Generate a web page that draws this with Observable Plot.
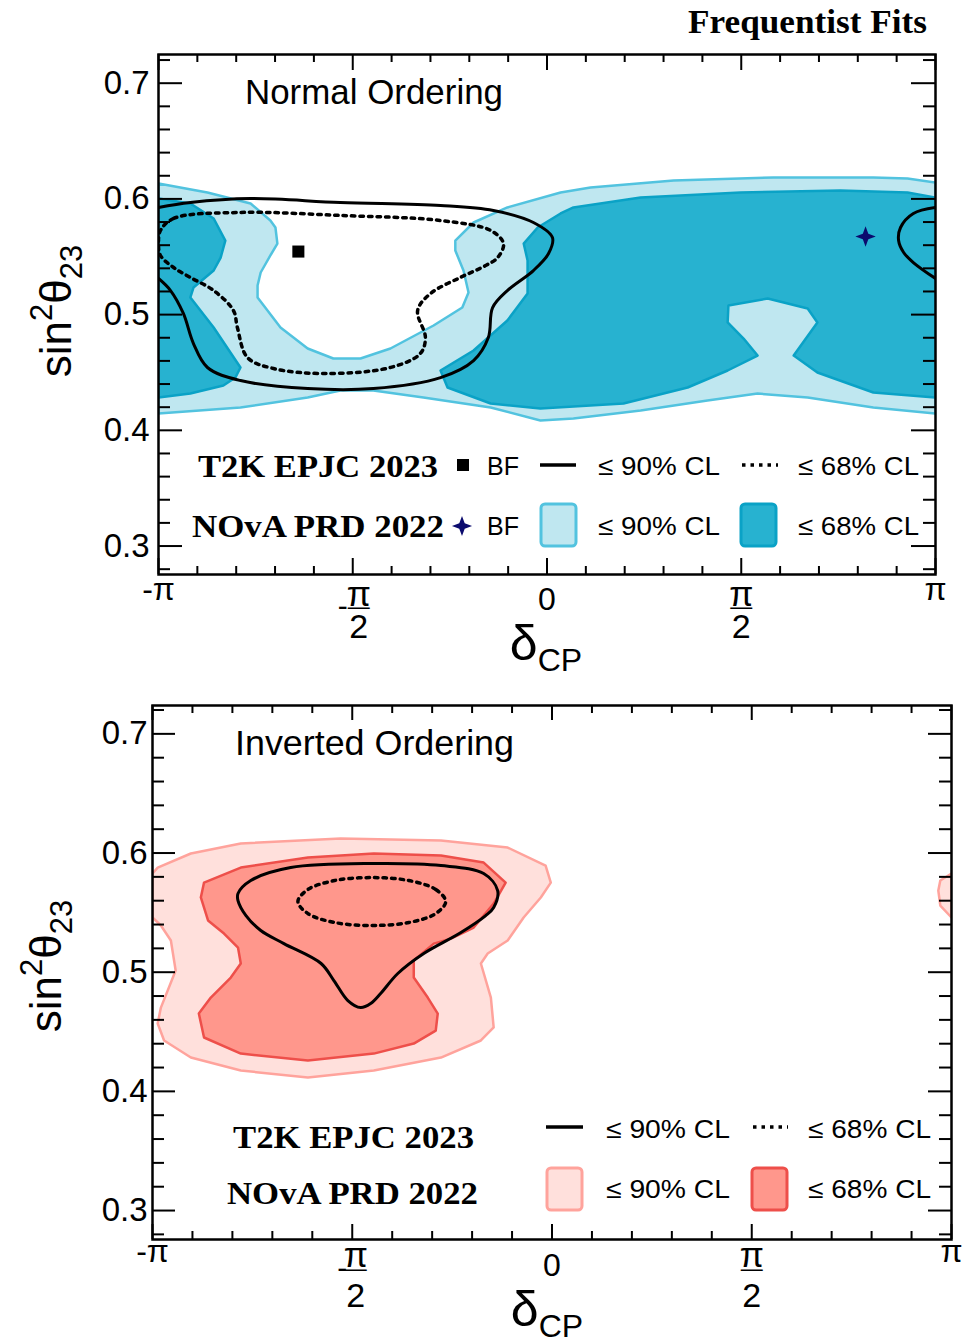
<!DOCTYPE html>
<html><head><meta charset="utf-8">
<script src="https://cdn.jsdelivr.net/npm/d3@7"></script>
<script src="https://cdn.jsdelivr.net/npm/@observablehq/plot@0.6"></script>
<style>
html,body{margin:0;padding:0;background:#fff;}
#wrap{position:relative;width:962px;height:1338px;overflow:hidden;}
#wrap svg{position:absolute;left:0;}
</style></head><body><div id="wrap"></div>
<script>
// x = δCP in units of π, y = sin²θ23
const xMajor = [-1, -0.5, 0, 0.5, 1];
const xLabels = ["-π", "-π/2", "0", "π/2", "π"];
const xMinor = [-0.9,-0.8,-0.7,-0.6,-0.4,-0.3,-0.2,-0.1,0.1,0.2,0.3,0.4,0.6,0.7,0.8,0.9];
const yMajor = [0.3, 0.4, 0.5, 0.6, 0.7];
const yMinor = [0.28,0.32,0.34,0.36,0.38,0.42,0.44,0.46,0.48,0.52,0.54,0.56,0.58,0.62,0.64,0.66,0.68,0.72];

// ---- Normal Ordering ----
const novaNO90 = [[-1.000,0.6133],[-0.874,0.6055],[-0.763,0.5960],[-0.712,0.5813],[-0.699,0.5753],[-0.694,0.5614],[-0.712,0.5511],[-0.737,0.5364],[-0.745,0.5251],[-0.745,0.5148],[-0.686,0.4889],[-0.616,0.4707],[-0.550,0.4621],[-0.480,0.4621],[-0.403,0.4707],[-0.292,0.4906],[-0.218,0.5061],[-0.202,0.5191],[-0.215,0.5381],[-0.236,0.5554],[-0.236,0.5640],[-0.189,0.5796],[-0.102,0.5926],[0.035,0.6055],[0.112,0.6098],[0.326,0.6159],[0.583,0.6185],[0.840,0.6185],[0.928,0.6176],[1.000,0.6142],[1.000,0.4145],[0.840,0.4197],[0.671,0.4283],[0.542,0.4318],[0.413,0.4258],[0.241,0.4171],[0.068,0.4102],[-0.017,0.4085],[-0.145,0.4197],[-0.318,0.4283],[-0.447,0.4344],[-0.532,0.4344],[-0.616,0.4283],[-0.789,0.4197],[-1.000,0.4145]];
const novaNO68Left = [[-1.000,0.6003],[-0.918,0.5960],[-0.858,0.5831],[-0.828,0.5640],[-0.840,0.5493],[-0.858,0.5381],[-0.910,0.5234],[-0.918,0.5148],[-0.858,0.4889],[-0.789,0.4543],[-0.802,0.4456],[-0.833,0.4387],[-0.918,0.4318],[-1.000,0.4283]];
const novaNO68Right = [[-0.024,0.5753],[0.035,0.5874],[0.068,0.5926],[0.241,0.6012],[0.498,0.6055],[0.755,0.6072],[0.928,0.6055],[1.000,0.6012],[1.000,0.4283],[0.840,0.4327],[0.696,0.4500],[0.635,0.4646],[0.696,0.4932],[0.671,0.5053],[0.568,0.5139],[0.467,0.5079],[0.465,0.4932],[0.506,0.4793],[0.542,0.4646],[0.465,0.4517],[0.362,0.4370],[0.197,0.4232],[-0.017,0.4188],[-0.145,0.4232],[-0.256,0.4370],[-0.274,0.4517],[-0.189,0.4690],[-0.102,0.4949],[-0.050,0.5182],[-0.050,0.5468],[-0.060,0.5614]];
const t2kNO90Main = [[-1.000,0.5926],[-0.918,0.5969],[-0.763,0.6003],[-0.532,0.5969],[-0.274,0.5943],[-0.138,0.5900],[-0.035,0.5796],[0.014,0.5666],[0.004,0.5528],[-0.035,0.5381],[-0.102,0.5208],[-0.140,0.5061],[-0.151,0.4802],[-0.189,0.4603],[-0.274,0.4456],[-0.447,0.4361],[-0.616,0.4361],[-0.789,0.4430],[-0.874,0.4543],[-0.910,0.4750],[-0.936,0.5010],[-0.969,0.5208],[-1.000,0.5312]];
const t2kNO90Wrap = [[1.000,0.5926],[0.943,0.5874],[0.910,0.5753],[0.905,0.5640],[0.918,0.5537],[0.943,0.5450],[1.000,0.5312]];
const t2kNO68 = [[-0.995,0.5727],[-0.961,0.5831],[-0.789,0.5883],[-0.532,0.5857],[-0.274,0.5813],[-0.145,0.5727],[-0.112,0.5614],[-0.127,0.5493],[-0.158,0.5424],[-0.223,0.5321],[-0.300,0.5182],[-0.333,0.5035],[-0.313,0.4802],[-0.326,0.4664],[-0.403,0.4543],[-0.575,0.4491],[-0.704,0.4534],[-0.771,0.4629],[-0.797,0.4889],[-0.807,0.5035],[-0.858,0.5208],[-0.918,0.5321],[-0.961,0.5407],[-0.995,0.5511],[-1.000,0.5614]];
const t2kBFNO = [[-0.640, 0.5545]];
const novaBFNO = [[0.820, 0.5675]];

// ---- Inverted Ordering ----
const novaIO90 = [[-0.987,0.5878],[-0.904,0.5996],[-0.779,0.6080],[-0.529,0.6122],[-0.278,0.6105],[-0.111,0.6046],[-0.016,0.5895],[-0.003,0.5752],[-0.028,0.5627],[-0.071,0.5459],[-0.111,0.5266],[-0.161,0.5157],[-0.178,0.5073],[-0.153,0.4787],[-0.146,0.4536],[-0.178,0.4427],[-0.278,0.4284],[-0.446,0.4175],[-0.611,0.4116],[-0.779,0.4175],[-0.904,0.4284],[-0.971,0.4427],[-0.987,0.4569],[-0.979,0.4703],[-0.942,0.5014],[-0.954,0.5266],[-0.979,0.5392],[-1.000,0.5459],[-1.000,0.5828]];
const novaIO90Wrap = [[1.000,0.5828],[0.972,0.5769],[0.967,0.5685],[0.972,0.5559],[1.000,0.5459]];
const novaIO68 = [[-0.879,0.5627],[-0.871,0.5752],[-0.779,0.5878],[-0.611,0.5962],[-0.446,0.5996],[-0.278,0.5979],[-0.171,0.5920],[-0.116,0.5752],[-0.146,0.5576],[-0.196,0.5375],[-0.253,0.5282],[-0.296,0.5240],[-0.346,0.5098],[-0.346,0.4955],[-0.311,0.4787],[-0.286,0.4653],[-0.291,0.4510],[-0.346,0.4401],[-0.446,0.4317],[-0.611,0.4259],[-0.779,0.4317],[-0.871,0.4452],[-0.884,0.4653],[-0.854,0.4787],[-0.804,0.4955],[-0.779,0.5073],[-0.786,0.5207],[-0.821,0.5324],[-0.861,0.5434]];
const t2kIO90 = [[-0.786,0.5660],[-0.754,0.5769],[-0.654,0.5878],[-0.446,0.5912],[-0.278,0.5895],[-0.171,0.5828],[-0.136,0.5685],[-0.146,0.5543],[-0.166,0.5475],[-0.228,0.5333],[-0.321,0.5157],[-0.386,0.4989],[-0.429,0.4821],[-0.454,0.4737],[-0.479,0.4703],[-0.511,0.4762],[-0.546,0.4930],[-0.578,0.5073],[-0.671,0.5240],[-0.729,0.5350],[-0.766,0.5475],[-0.786,0.5601]];
const t2kIO68 = [[-0.266,0.5593],[-0.291,0.5694],[-0.358,0.5769],[-0.451,0.5794],[-0.544,0.5769],[-0.611,0.5694],[-0.636,0.5593],[-0.611,0.5492],[-0.544,0.5417],[-0.451,0.5392],[-0.358,0.5417],[-0.291,0.5492]];

const SANS = "'Liberation Sans', Arial, Helvetica, sans-serif";
const SERIF = "'Liberation Serif', 'Times New Roman', serif";
const C = {
  b90: "#bfe7f0", b90s: "#52c3df", b68: "#27b2d0", b68s: "#0aa2c6",
  r90: "#ffe0dc", r90s: "#ffa39c", r68: "#ff978c", r68s: "#ee4f4a", navy: "#0b0b6e"
};
const star4 = {draw(ctx, size) {
  const r = Math.sqrt(size) * 0.9, w = r * 0.27;
  ctx.moveTo(0, -r); ctx.lineTo(w, -w); ctx.lineTo(r, 0); ctx.lineTo(w, w);
  ctx.lineTo(0, r); ctx.lineTo(-w, w); ctx.lineTo(-r, 0); ctx.lineTo(-w, -w); ctx.closePath();
}};

const P = {x: d => d[0], y: d => d[1], clip: true};
const poly = (data, fill, stroke) => Plot.line(data, {...P, fill, stroke, strokeWidth: 2.5, curve: "linear-closed", strokeLinejoin: "round"});
const solid = (data, closed) => Plot.line(data, {...P, stroke: "#000", strokeWidth: 3, curve: closed ? "catmull-rom-closed" : "catmull-rom"});
const dotted = (data) => Plot.line(data, {...P, stroke: "#000", strokeWidth: 3.5, strokeDasharray: "3.5,5", curve: "catmull-rom-closed"});

function buildPanel(cfg) {
  const {top, height, mL, mR, mT, mB, yDom, layers, L} = cfg;
  const iw = 962 - mL - mR, ih = height - mT - mB;
  const kx = 2 / iw, ky = (yDom[1] - yDom[0]) / ih;
  const [Y0, Y1] = yDom;
  const tk = {stroke: "#000", strokeWidth: 2};
  const lab = {fontSize: 32, fontFamily: SANS, fill: "#000", frameAnchor: "bottom", lineAnchor: "middle"};
  const fracMarks = [];
  xMajor.forEach((v, i) => {
    const s = xLabels[i];
    if (s.includes("/")) {
      const neg = s.startsWith("-");
      const sh = neg ? L.fracShift : 0;
      const [num, den] = s.replace("-", "").split("/");
      fracMarks.push(
        Plot.text([v], {x: d => d, text: () => num, ...lab, dy: L.piDy, dx: sh, fontSize: 35}),
        Plot.text([v], {x: d => d, text: () => "—", ...lab, dy: L.barDy, dx: sh, fontSize: 22}),
        Plot.text([v], {x: d => d, text: () => den, ...lab, dy: L.twoDy, dx: sh, fontSize: 34})
      );
      if (neg) fracMarks.push(Plot.text([v], {x: d => d, text: () => "-", ...lab, dy: L.barDy, dx: L.minusDx, fontSize: 30}));
    } else {
      fracMarks.push(Plot.text([v], {x: d => d, text: () => s, ...lab, dy: s === "0" ? L.zeroDy : L.endDy}));
    }
  });
  const svg = Plot.plot({
    width: 962, height, marginLeft: mL, marginRight: mR, marginTop: mT, marginBottom: mB,
    x: {domain: [-1, 1], axis: null},
    y: {domain: yDom, axis: null},
    style: {background: "transparent", overflow: "visible", fontFamily: SANS},
    marks: [
      ...layers,
      Plot.ruleX(xMajor, {x: d => d, y1: Y0, y2: Y0 + L.xMaj * ky, ...tk}),
      Plot.ruleX(xMajor, {x: d => d, y1: Y1, y2: Y1 - L.xMaj * ky, ...tk}),
      Plot.ruleX(xMinor, {x: d => d, y1: Y0, y2: Y0 + L.xMin * ky, ...tk}),
      Plot.ruleX(xMinor, {x: d => d, y1: Y1, y2: Y1 - L.xMin * ky, ...tk}),
      Plot.ruleY(yMajor, {y: d => d, x1: -1, x2: -1 + L.yMaj * kx, ...tk}),
      Plot.ruleY(yMajor, {y: d => d, x1: 1, x2: 1 - L.yMaj * kx, ...tk}),
      Plot.ruleY(yMinor, {y: d => d, x1: -1, x2: -1 + L.yMin * kx, ...tk}),
      Plot.ruleY(yMinor, {y: d => d, x1: 1, x2: 1 - L.yMin * kx, ...tk}),
      Plot.frame({stroke: "#000", strokeWidth: 2.5}),
      Plot.text(yMajor, {y: d => d, text: d => d.toFixed(1), frameAnchor: "left", lineAnchor: "middle", textAnchor: "end", dx: L.ydx, fontSize: 33, fontFamily: SANS, fill: "#000"}),
      ...fracMarks
    ]
  });
  svg.style.top = top + "px";
  return svg;
}

const wrap = document.getElementById("wrap");
wrap.appendChild(buildPanel({
  top: 0, height: 680, mL: 158, mR: 27, mT: 54, mB: 106, yDom: [0.2754, 0.7248],
  L: {xMaj: 16, xMin: 8, yMaj: 24, yMin: 12, ydx: -9, endDy: 15, zeroDy: 25, piDy: 20, barDy: 32, twoDy: 53, minusDx: -10, fracShift: 6},
  layers: [
    poly(novaNO90, C.b90, C.b90s),
    poly(novaNO68Left, C.b68, C.b68s),
    poly(novaNO68Right, C.b68, C.b68s),
    solid(t2kNO90Main, false),
    solid(t2kNO90Wrap, false),
    dotted(t2kNO68),
    Plot.dot(t2kBFNO, {x: d => d[0], y: d => d[1], symbol: "square", r: 6.8, fill: "#000"}),
    Plot.dot(novaBFNO, {x: d => d[0], y: d => d[1], symbol: star4, r: 6.4, fill: C.navy})
  ]
}));
wrap.appendChild(buildPanel({
  top: 680, height: 658, mL: 152, mR: 11, mT: 25, mB: 99, yDom: [0.2757, 0.7238],
  L: {xMaj: 15, xMin: 8, yMaj: 23, yMin: 12, ydx: -5, endDy: 12, zeroDy: 26, piDy: 16, barDy: 29, twoDy: 57, minusDx: -10, fracShift: 3.5},
  layers: [
    poly(novaIO90, C.r90, C.r90s),
    poly(novaIO90Wrap, C.r90, C.r90s),
    poly(novaIO68, C.r68, C.r68s),
    solid(t2kIO90, true),
    dotted(t2kIO68)
  ]
}));

// ---- overlay: titles, axis titles, legends ----
const ov = d3.select(wrap).append("svg").attr("width", 962).attr("height", 1338).style("top", "0px");
function T(x, y, str, o = {}) {
  const t = ov.append("text").attr("x", x).attr("y", y)
    .attr("font-size", o.size || 26).attr("font-family", o.family || SANS)
    .attr("font-weight", o.weight || "normal").attr("text-anchor", o.anchor || "start")
    .attr("fill", "#000").text(str);
  if (o.len) t.attr("textLength", o.len).attr("lengthAdjust", "spacingAndGlyphs");
  return t;
}
function yTitle(cx, cy) {
  const t = ov.append("text").attr("transform", `translate(${cx},${cy}) rotate(-90)`)
    .attr("text-anchor", "middle").attr("font-family", SANS).attr("font-size", 44).attr("fill", "#000");
  t.append("tspan").text("sin");
  t.append("tspan").attr("font-size", 31).attr("dy", -19).text("2");
  t.append("tspan").attr("dy", 19).text("θ");
  t.append("tspan").attr("font-size", 31).attr("dy", 11).text("23");
}
function xTitle(cx, by) {
  const t = ov.append("text").attr("x", cx).attr("y", by).attr("text-anchor", "middle")
    .attr("font-family", SANS).attr("font-size", 50).attr("fill", "#000");
  t.append("tspan").text("δ");
  t.append("tspan").attr("font-size", 32).attr("dy", 11).text("CP");
}
function box(x, y, fill, stroke) {
  ov.append("rect").attr("x", x).attr("y", y).attr("width", 35).attr("height", 42).attr("rx", 4)
    .attr("fill", fill).attr("stroke", stroke).attr("stroke-width", 3);
}
function hline(x1, x2, y, dash) {
  const l = ov.append("line").attr("x1", x1).attr("x2", x2).attr("y1", y).attr("y2", y)
    .attr("stroke", "#000").attr("stroke-width", 3.5);
  if (dash) l.attr("stroke-dasharray", "3.5,5");
}

// top
T(927, 33, "Frequentist Fits", {size: 34, family: SERIF, weight: "bold", anchor: "end", len: 239});
T(245, 104, "Normal Ordering", {size: 35, len: 258});
yTitle(71, 311);
xTitle(546, 660);
T(198, 477, "T2K EPJC 2023", {size: 32, family: SERIF, weight: "bold", len: 240});
T(192, 537, "NOvA PRD 2022", {size: 32, family: SERIF, weight: "bold", len: 252});
ov.append("rect").attr("x", 457).attr("y", 459).attr("width", 12).attr("height", 12).attr("fill", "#000");
ov.append("path").attr("transform", "translate(462,526)").attr("d", d3.symbol(star4, 125)()).attr("fill", C.navy);
T(487, 475, "BF", {size: 25});
T(487, 535, "BF", {size: 25});
hline(540, 576, 465, false);
hline(742, 778, 465, true);
T(598, 475, "≤ 90% CL", {size: 26, len: 122});
T(798, 475, "≤ 68% CL", {size: 26, len: 121});
box(541, 504, C.b90, C.b90s);
box(741, 504, C.b68, C.b68s);
T(598, 535, "≤ 90% CL", {size: 26, len: 122});
T(798, 535, "≤ 68% CL", {size: 26, len: 121});

// bottom
T(235, 755, "Inverted Ordering", {size: 35, len: 279});
yTitle(61, 966);
xTitle(547, 1326);
T(233, 1148, "T2K EPJC 2023", {size: 32, family: SERIF, weight: "bold", len: 241});
T(227, 1204, "NOvA PRD 2022", {size: 32, family: SERIF, weight: "bold", len: 251});
hline(546, 583, 1127, false);
hline(753, 788, 1127, true);
T(606, 1138, "≤ 90% CL", {size: 26, len: 124});
T(808, 1138, "≤ 68% CL", {size: 26, len: 123});
box(547, 1168, C.r90, C.r90s);
box(752, 1168, C.r68, C.r68s);
T(606, 1198, "≤ 90% CL", {size: 26, len: 124});
T(808, 1198, "≤ 68% CL", {size: 26, len: 123});
</script>
</body></html>
